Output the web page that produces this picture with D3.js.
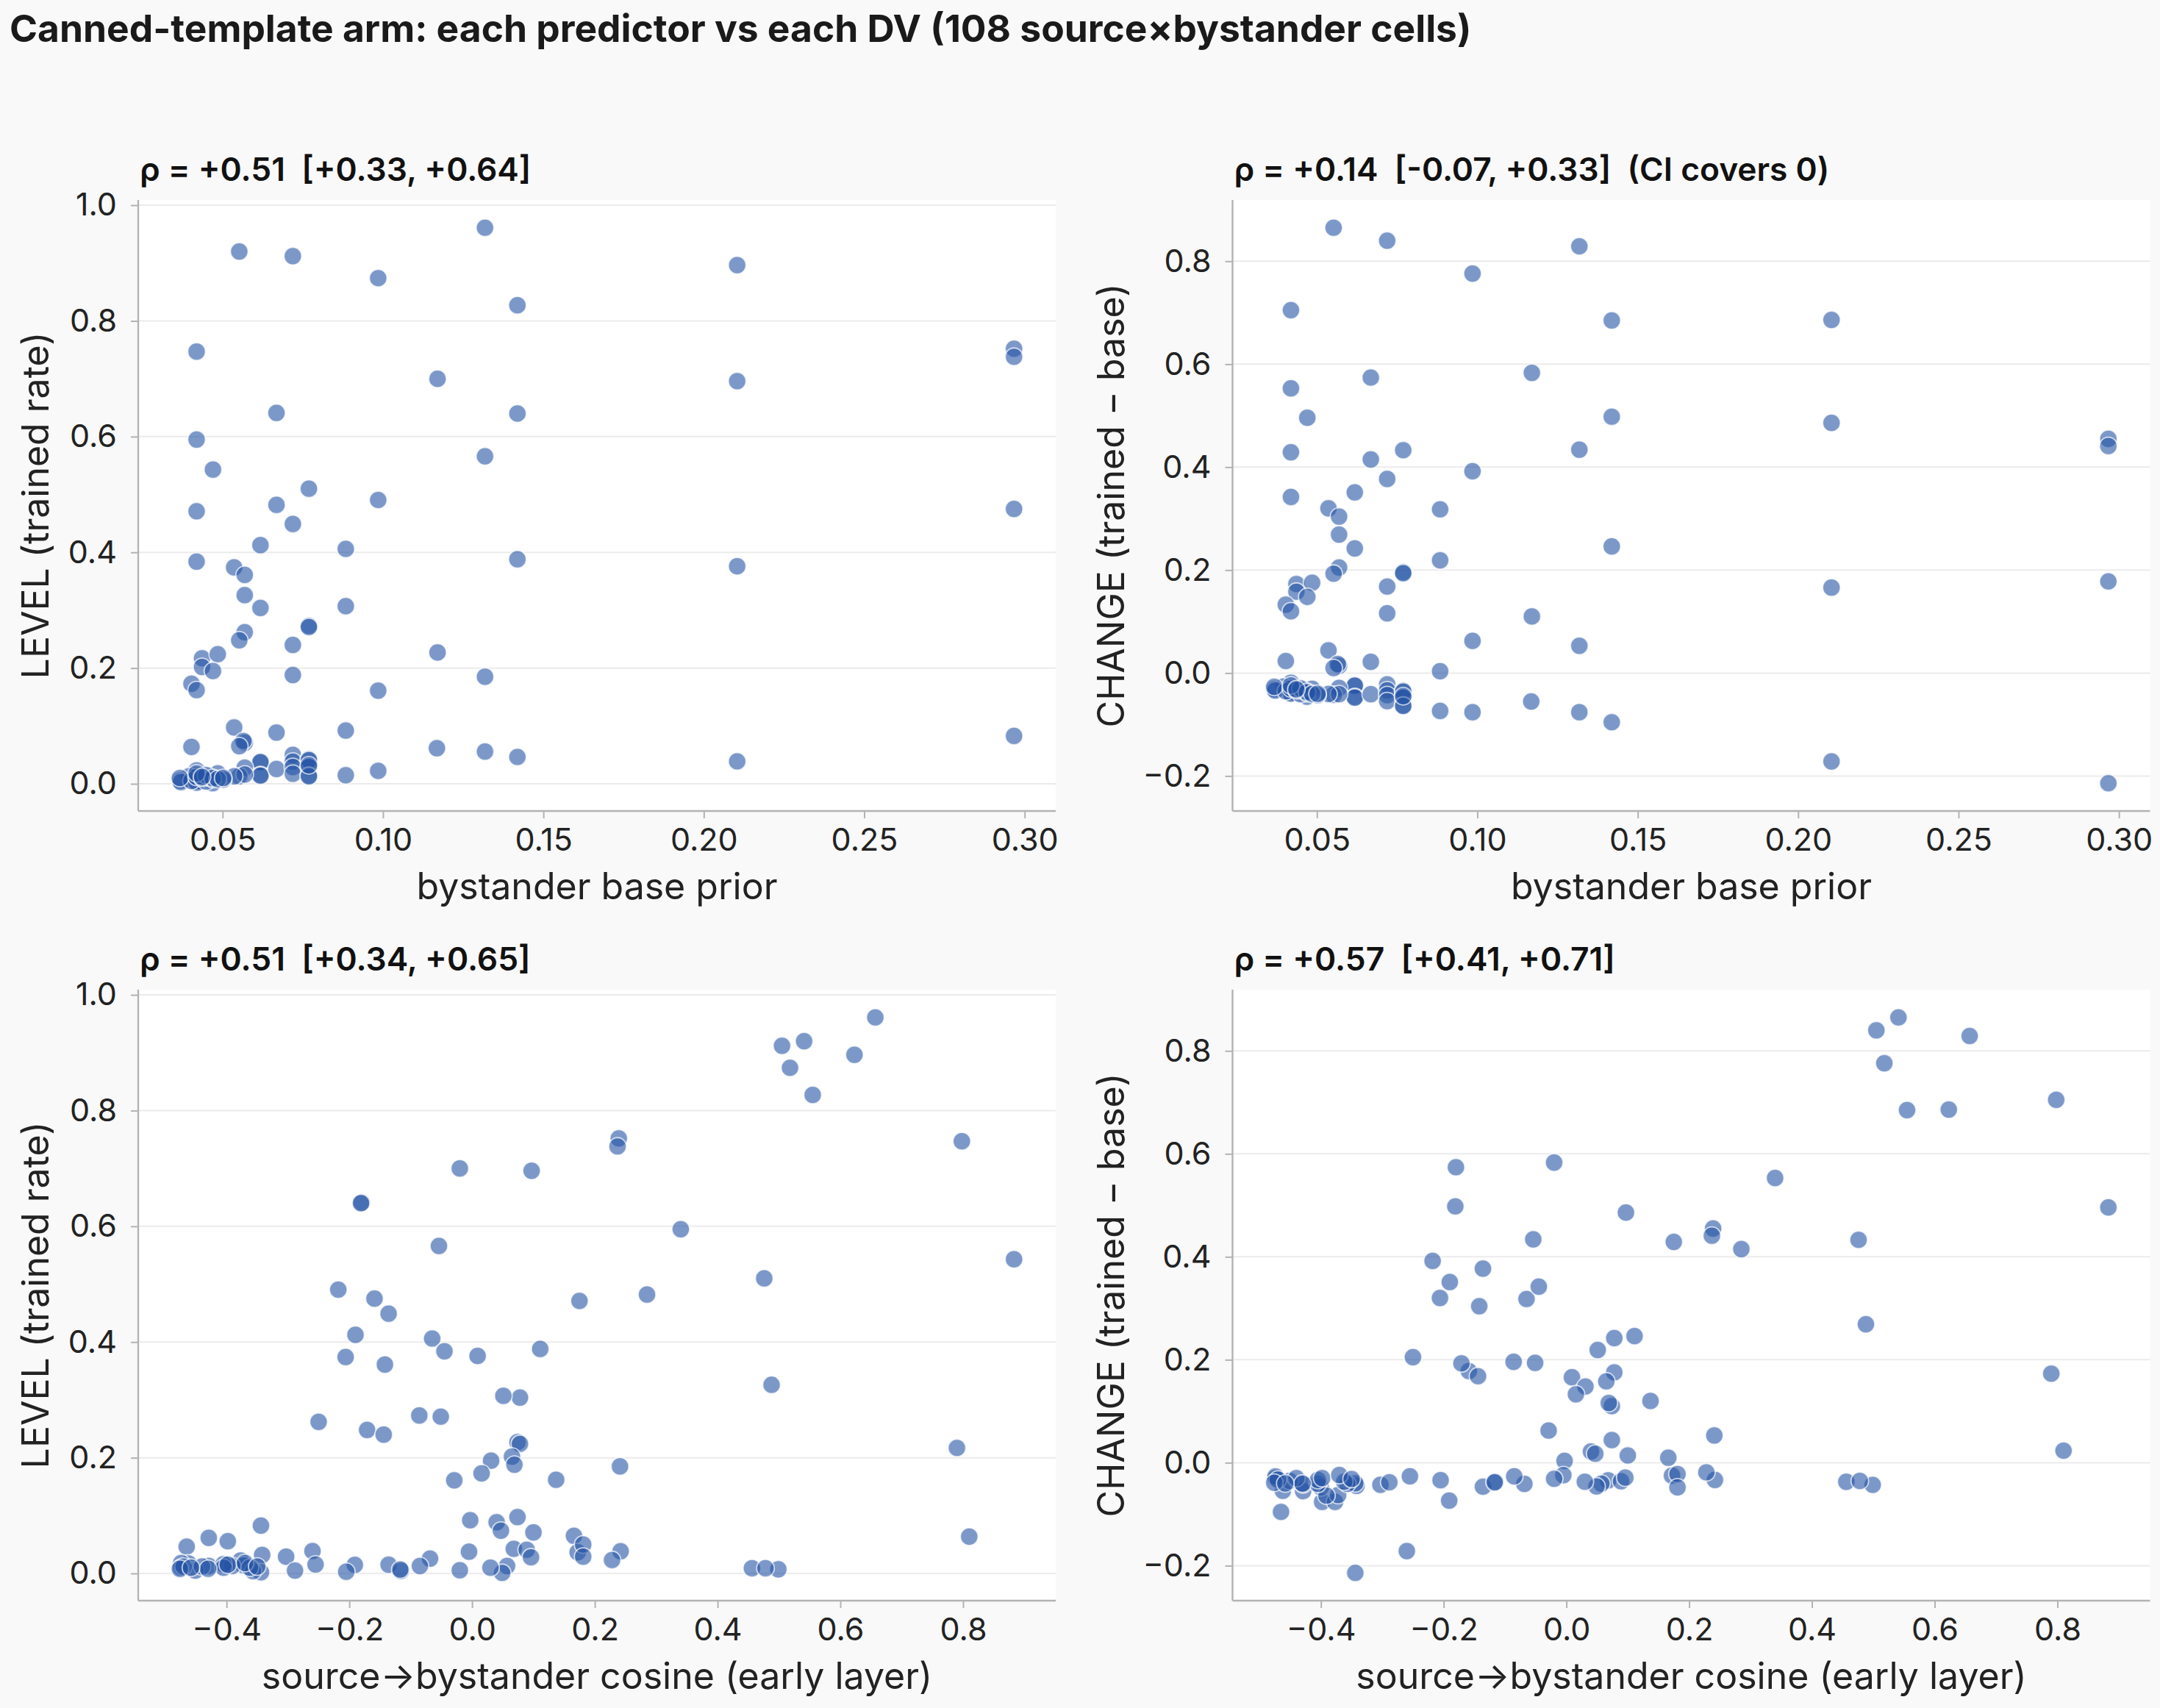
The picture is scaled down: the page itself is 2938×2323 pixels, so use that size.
<!DOCTYPE html>
<html><head><meta charset="utf-8">
<script src="https://cdn.jsdelivr.net/npm/d3@7"></script>
<style>
html,body{margin:0;padding:0;background:#f9f9f9;}
svg{display:block;font-family:Inter,"Noto Sans",sans-serif;}
text{white-space:pre;}
</style></head><body>
<svg id="chart" width="2938" height="2323"></svg>
<script>
// ---- data: one entry per source×bystander cell (108 cells) ----
const basePrior = [
 0.1318,0.0552,0.0719,0.2104,0.0985,0.1419,0.0419,0.2967,0.2967,0.1170,
 0.2104,0.0668,0.1419,0.0419,0.0470,0.1318,0.0769,0.0985,0.0419,0.0668,
 0.2967,0.0719,0.0618,0.0884,0.0419,0.1419,0.2104,0.0536,0.0569,0.0569,
 0.0618,0.0884,0.0769,0.0769,0.0569,0.0552,0.0719,0.1170,0.0436,0.0485,
 0.0436,0.0470,0.0403,0.0419,0.1318,0.0719,0.0985,
 0.0536,0.0884,0.0668,0.0403,0.0569,0.0565,0.0552,0.1168,0.1318,0.1419,
 0.2104,0.2967,0.0985,0.0884,0.0618,0.0618,0.0618,0.0618,0.0668,0.0719,
 0.0719,0.0719,0.0719,0.0769,0.0769,0.0769,0.0769,0.0769,0.0569,0.0552,
 0.0569,0.0536,0.0485,0.0502,0.0469,0.0460,0.0444,0.0419,0.0419,0.0419,
 0.0395,0.0367,0.0449,0.0469,
 0.0370,0.0430,0.0769,0.0419,0.0449,0.0403,0.0367,0.0449,0.0469,
 0.0419,0.0436,0.0449,0.0469,0.0485,0.0419,0.0436,0.0502
];
const cosine = [
 0.657,0.541,0.505,0.623,0.518,0.555,0.798,0.239,0.237,-0.020,
 0.097,-0.180,-0.181,0.340,0.883,-0.054,0.476,-0.218,0.175,0.285,
 -0.159,-0.136,-0.190,-0.065,-0.045,0.111,0.009,-0.206,-0.142,0.488,
 0.078,0.051,-0.086,-0.051,-0.250,-0.171,-0.144,0.074,0.790,0.078,
 0.065,0.031,0.0155,0.137,0.241,0.069,-0.029,
 0.074,-0.003,0.040,0.810,0.100,0.047,0.166,-0.429,-0.398,-0.465,
 -0.260,-0.344,-0.377,-0.191,0.172,-0.005,-0.136,-0.400,-0.0685,0.181,
 0.242,-0.303,-0.462,0.068,0.089,0.181,-0.372,-0.391,0.096,-0.429,
 -0.405,0.057,-0.474,0.499,0.049,0.456,0.478,0.228,-0.255,-0.116,
 -0.085,-0.020,-0.117,0.030,
 -0.205,-0.2885,-0.342,-0.344,-0.357,-0.451,-0.474,-0.470,-0.476,
 -0.440,-0.405,-0.398,-0.362,-0.430,-0.370,-0.350,-0.458
];
const level = [
 0.961,0.920,0.912,0.8965,0.874,0.827,0.747,0.752,0.738,0.700,
 0.696,0.641,0.640,0.595,0.543,0.566,0.510,0.4905,0.471,0.482,
 0.475,0.449,0.4125,0.406,0.384,0.388,0.376,0.374,0.361,0.326,
 0.304,0.307,0.273,0.271,0.262,0.248,0.240,0.227,0.217,0.224,
 0.202,0.195,0.173,0.162,0.185,0.188,0.161,
 0.0975,0.092,0.0886,0.0637,0.071,0.074,0.065,0.0616,0.0557,0.0464,
 0.0388,0.0827,0.0224,0.0148,0.0367,0.0376,0.0152,0.014,0.0257,0.050,
 0.0384,0.029,0.0173,0.0426,0.041,0.029,0.014,0.013,0.028,0.013,
 0.016,0.013,0.018,0.0072,0.001,0.009,0.009,0.0232,0.0155,0.0046,
 0.013,0.0055,0.0068,0.010,
 0.003,0.005,0.032,0.002,0.004,0.005,0.010,0.012,0.008,
 0.012,0.010,0.015,0.010,0.008,0.018,0.012,0.010
];
const change = [
 0.829,0.865,0.840,0.686,0.776,0.685,0.705,0.455,0.441,0.583,
 0.486,0.574,0.498,0.553,0.496,0.434,0.433,0.392,0.429,0.415,
 0.178,0.377,0.351,0.318,0.342,0.246,0.166,0.320,0.304,0.269,
 0.242,0.219,0.196,0.194,0.205,0.193,0.168,0.110,0.173,0.1755,
 0.158,0.148,0.133,0.120,0.053,0.116,0.0625,
 0.044,0.0036,0.0218,0.0234,0.0141,0.0175,0.0098,-0.0552,-0.0761,-0.0955,
 -0.1716,-0.214,-0.0761,-0.0736,-0.0251,-0.0242,-0.0466,-0.0478,-0.0411,-0.0219,
 -0.0335,-0.0429,-0.0546,-0.0343,-0.0359,-0.0479,-0.0629,-0.0639,-0.0289,-0.0422,
 -0.0409,-0.0406,-0.0305,-0.0430,-0.0459,-0.0370,-0.0354,-0.0187,-0.0264,-0.0373,
 -0.0265,-0.0312,-0.0381,-0.0369,
 -0.034,-0.038,-0.0449,-0.0399,-0.0409,-0.0353,-0.0267,-0.0329,-0.0389,
 -0.0299,-0.0336,-0.0299,-0.0369,-0.0405,-0.0239,-0.0316,-0.0402
];
const priorTicks = [0.05,0.10,0.15,0.20,0.25,0.30];
const cosineTicks = [-0.4,-0.2,0.0,0.2,0.4,0.6,0.8];
const levelTicks = [0.0,0.2,0.4,0.6,0.8,1.0];
const changeTicks = [-0.2,0.0,0.2,0.4,0.6,0.8];
const chartTitle = "Canned-template arm: each predictor vs each DV (108 source×bystander cells)";
const panelTitles = [
 "ρ = +0.51  [+0.33, +0.64]",
 "ρ = +0.14  [-0.07, +0.33]  (CI covers 0)",
 "ρ = +0.51  [+0.34, +0.65]",
 "ρ = +0.57  [+0.41, +0.71]"
];
const xLabels = ["bystander base prior","source→bystander cosine (early layer)"];
const yLabels = ["LEVEL (trained rate)","CHANGE (trained − base)"];

// ---- layout ----
const colX = [188, 1676.5], rowY = [272, 1346];
const PW = 1248, PH = 831;
const yLabelX = [66, 1529];

const svg = d3.select("#chart");
svg.append("rect").attr("width",2938).attr("height",2323).attr("fill","#f9f9f9");
svg.append("text").attr("x",13).attr("y",57).attr("font-size",51.5).attr("font-weight",700)
  .attr("fill","#1a1a1a").text(chartTitle);

function padded(arr){
  const [a,b] = d3.extent(arr); const p = (b-a)*0.05; return [a-p,b+p];
}
const panels = [
 {xs: basePrior, ys: level,  xt: priorTicks,  yt: levelTicks,  xf: d3.format(".2f"), xl: 0, yl: 0, r:0, c:0},
 {xs: basePrior, ys: change, xt: priorTicks,  yt: changeTicks, xf: d3.format(".2f"), xl: 0, yl: 1, r:0, c:1},
 {xs: cosine,    ys: level,  xt: cosineTicks, yt: levelTicks,  xf: d3.format(".1f"), xl: 1, yl: 0, r:1, c:0},
 {xs: cosine,    ys: change, xt: cosineTicks, yt: changeTicks, xf: d3.format(".1f"), xl: 1, yl: 1, r:1, c:1}
];
const yf = d3.format(".1f");
const gridC = "#ebebeb", spineC = "#b3b3b3", textC = "#222";

panels.forEach((p,i)=>{
  const L = colX[p.c], T = rowY[p.r];
  const x = d3.scaleLinear().domain(padded(p.xs)).range([L, L+PW]);
  const y = d3.scaleLinear().domain(padded(p.ys)).range([T+PH, T]);
  const g = svg.append("g");
  g.append("rect").attr("x",L).attr("y",T).attr("width",PW).attr("height",PH).attr("fill","#ffffff");
  g.append("g").selectAll("line").data(p.yt).join("line")
    .attr("x1",L).attr("x2",L+PW).attr("y1",d=>y(d)).attr("y2",d=>y(d))
    .attr("stroke",gridC).attr("stroke-width",2);
  const xa = g.append("g").attr("transform",`translate(0,${T+PH})`)
    .call(d3.axisBottom(x).tickValues(p.xt).tickFormat(p.xf).tickSize(10).tickPadding(13));
  const ya = g.append("g").attr("transform",`translate(${L},0)`)
    .call(d3.axisLeft(y).tickValues(p.yt).tickFormat(yf).tickSize(10).tickPadding(19));
  [xa,ya].forEach(a=>{
    a.select(".domain").remove();
    a.selectAll(".tick line").attr("stroke",spineC).attr("stroke-width",2);
    a.selectAll(".tick text").attr("fill",textC).attr("font-size",43).attr("font-family","Inter");
  });
  g.append("line").attr("x1",L).attr("x2",L).attr("y1",T).attr("y2",T+PH).attr("stroke",spineC).attr("stroke-width",2.4);
  g.append("line").attr("x1",L).attr("x2",L+PW).attr("y1",T+PH).attr("y2",T+PH).attr("stroke",spineC).attr("stroke-width",2.4);
  g.append("g").selectAll("circle").data(d3.range(p.xs.length)).join("circle")
    .attr("cx",k=>x(p.xs[k])).attr("cy",k=>y(p.ys[k])).attr("r",12)
    .attr("fill","#2453a5").attr("fill-opacity",0.6)
    .attr("stroke","#ffffff").attr("stroke-opacity",0.7).attr("stroke-width",1.8);
  g.append("text").attr("x",L+2).attr("y",T-26).attr("font-size",44.3).attr("font-weight",600)
    .attr("fill","#111").text(panelTitles[i]);
  g.append("text").attr("x",L+PW/2).attr("y",T+PH+120).attr("text-anchor","middle")
    .attr("font-size",50).attr("fill",textC).text(xLabels[p.xl]);
  g.append("text").attr("transform",`translate(${yLabelX[p.c]},${T+PH/2}) rotate(-90)`)
    .attr("text-anchor","middle").attr("font-size",50).attr("fill",textC).text(yLabels[p.yl]);
});
</script>
</body></html>
